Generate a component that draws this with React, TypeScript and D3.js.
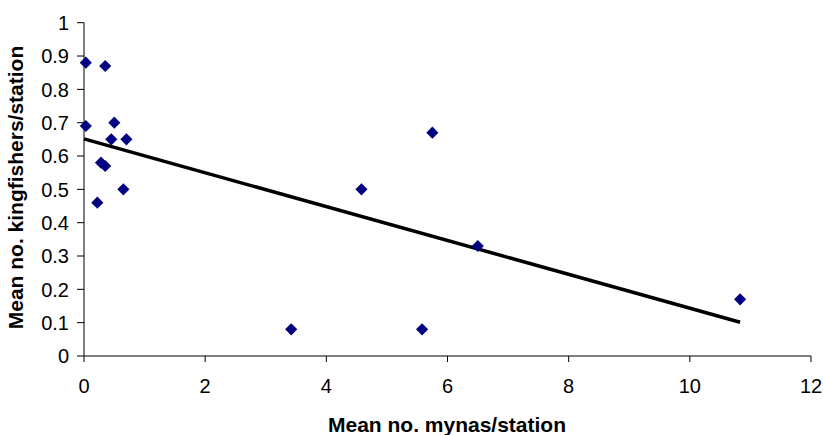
import React from "react";
import * as d3 from "d3";

const mynas = [0.03, 0.35, 0.03, 0.5, 0.45, 0.7, 0.28, 0.35, 0.65, 0.22, 4.58, 5.75, 6.5, 3.42, 5.58, 10.83];
const kingfishers = [0.88, 0.87, 0.69, 0.7, 0.65, 0.65, 0.58, 0.57, 0.5, 0.46, 0.5, 0.67, 0.33, 0.08, 0.08, 0.17];
const xTicks = [0, 2, 4, 6, 8, 10, 12];
const yTicks = [0, 0.1, 0.2, 0.3, 0.4, 0.5, 0.6, 0.7, 0.8, 0.9, 1];
const xTitle = "Mean no. mynas/station";
const yTitle = "Mean no. kingfishers/station";

export default function App() {
  const W = 823, H = 435;
  const x = d3.scaleLinear().domain([0, 12]).range([84, 811]);
  const y = d3.scaleLinear().domain([0, 1]).range([356, 22.7]);
  const n = mynas.length;
  const mx = d3.mean(mynas)!;
  const my = d3.mean(kingfishers)!;
  let sxy = 0, sxx = 0;
  for (let i = 0; i < n; i++) {
    sxy += (mynas[i] - mx) * (kingfishers[i] - my);
    sxx += (mynas[i] - mx) ** 2;
  }
  const slope = sxy / sxx;
  const intercept = my - slope * mx;
  const x0 = 0, x1 = d3.max(mynas)!;
  const line = d3.line<number>().x((d) => x(d)).y((d) => y(intercept + slope * d));
  const sym = d3.symbol().type(d3.symbolDiamond2).size(94)();
  const font = "'Liberation Sans', Arial, sans-serif";
  return (
    <svg width={W} height={H} style={{ position: "absolute", left: 0, top: 0, background: "#fff" }} fontFamily={font}>
      <line x1={x(0)} x2={x(0)} y1={y(1)} y2={y(0)} stroke="#000" strokeWidth={1} />
      <line x1={x(0)} x2={x(12)} y1={y(0)} y2={y(0)} stroke="#000" strokeWidth={1} />
      {yTicks.map((t) => (
        <g key={"y" + t}>
          <line x1={x(0) - 7} x2={x(0)} y1={y(t)} y2={y(t)} stroke="#000" />
          <text x={69} y={y(t)} dy="0.36em" textAnchor="end" fontSize={20} fill="#000">
            {String(t)}
          </text>
        </g>
      ))}
      {xTicks.map((t) => (
        <g key={"x" + t}>
          <line x1={x(t)} x2={x(t)} y1={y(0)} y2={y(0) + 6} stroke="#000" />
          <text x={x(t)} y={393} textAnchor="middle" fontSize={20} fill="#000">
            {String(t)}
          </text>
        </g>
      ))}
      <path d={line([x0, x1]) || ""} stroke="#000" strokeWidth={3.5} fill="none" />
      {mynas.map((v, i) => (
        <path key={i} d={sym || ""} transform={`translate(${x(v)},${y(kingfishers[i])})`} fill="#000080" />
      ))}
      <text x={447} y={432} textAnchor="middle" fontSize={21} fontWeight="bold" fill="#000">
        {xTitle}
      </text>
      <text transform={`translate(23,187.5) rotate(-90)`} textAnchor="middle" fontSize={21} fontWeight="bold" fill="#000">
        {yTitle}
      </text>
    </svg>
  );
}
